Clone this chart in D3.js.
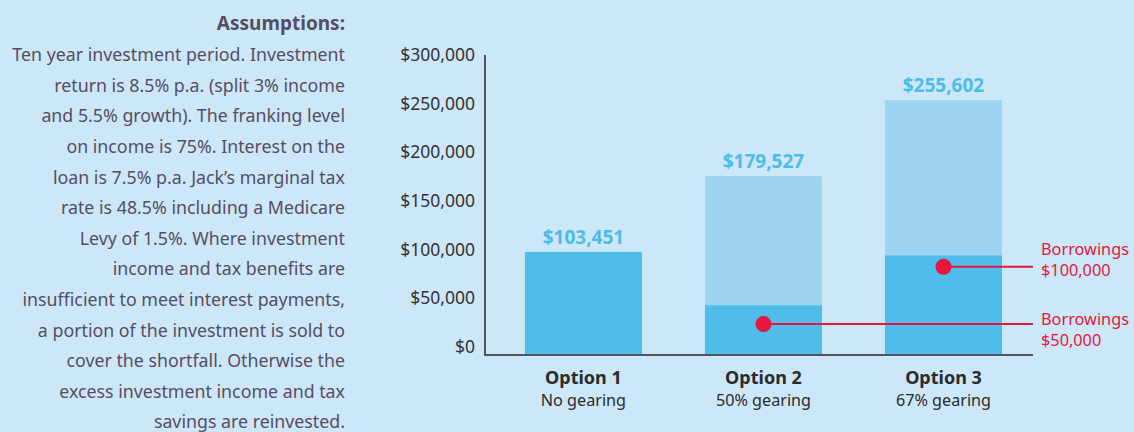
<!DOCTYPE html>
<html><head><meta charset="utf-8">
<script src="https://cdn.jsdelivr.net/npm/d3@7"></script>
<style>
body{margin:0;background:#CCE7F8;}
svg{display:block;font-family:"Noto Sans",sans-serif;}
</style>
</head><body>
<svg id="chart" width="1134" height="432"></svg>
<script>
// ---- data ----
const categories = ["Option 1", "Option 2", "Option 3"];
const subtitles = ["No gearing", "50% gearing", "67% gearing"];
const totals = [103451, 179527, 255602];
const lowerSegment = [103451, 50000, 100000];
const yTicks = [0, 50000, 100000, 150000, 200000, 250000, 300000];
const borrowOptions = ["Option 3", "Option 2"];
const borrowAmounts = [100000, 50000];
const borrowMarkerLevels = [88500, 31000];
const borrowLabelLevels = [106500, 35500];
const assumptionsTitle = "Assumptions:";
const assumptionLines = [
  "Ten year investment period. Investment",
  "return is 8.5% p.a. (split 3% income",
  "and 5.5% growth). The franking level",
  "on income is 75%. Interest on the",
  "loan is 7.5% p.a. Jack\u2019s marginal tax",
  "rate is 48.5% including a Medicare",
  "Levy of 1.5%. Where investment",
  "income and tax benefits are",
  "insufficient to meet interest payments,",
  "a portion of the investment is sold to",
  "cover the shortfall. Otherwise the",
  "excess investment income and tax",
  "savings are reinvested."
];

// ---- styles ----
const C = {
  bg: "#CCE7F8", dark: "#50BCEA", light: "#9DD4F0", value: "#4FBBE9",
  red: "#E4173E", axis: "#50545C", tick: "#333333", text: "#574D63"
};
const fmt = d3.format(",");
const svg = d3.select("#chart");

const x = d3.scaleBand().domain(categories).range([485, 1033])
  .paddingInner(0.35).paddingOuter(0.197).align(0.563);
const y = d3.scaleLinear().domain([0, 300000]).range([355, 56]);
const yLabel = y.copy().range([347, 55]);

// bars
const rows = categories.map((c, i) => ({c, total: totals[i], lower: lowerSegment[i]}));
svg.append("g").selectAll("rect").data(rows).join("rect")
  .attr("x", d => x(d.c)).attr("width", x.bandwidth())
  .attr("y", d => y(d.total)).attr("height", d => y(d.lower) - y(d.total))
  .attr("fill", C.light);
svg.append("g").selectAll("rect").data(rows).join("rect")
  .attr("x", d => x(d.c)).attr("width", x.bandwidth())
  .attr("y", d => y(d.lower)).attr("height", d => y(0) - y(d.lower))
  .attr("fill", C.dark);

// value labels
svg.append("g").selectAll("text").data(rows).join("text")
  .attr("x", d => x(d.c) + x.bandwidth() / 2).attr("y", d => y(d.total) - 8)
  .attr("text-anchor", "middle").attr("font-weight", "bold").attr("font-size", 19)
  .attr("fill", C.value).text(d => "$" + fmt(d.total));

// axes lines
svg.append("line").attr("x1", 485).attr("x2", 485).attr("y1", y(300000) - 1).attr("y2", y(0) + 1)
  .attr("stroke", C.axis).attr("stroke-width", 2);
svg.append("line").attr("x1", x.range()[0]).attr("x2", x.range()[1]).attr("y1", y(0)).attr("y2", y(0))
  .attr("stroke", C.axis).attr("stroke-width", 2);

// y tick labels
svg.append("g").selectAll("text").data(yTicks).join("text")
  .attr("x", 475).attr("y", d => yLabel(d)).attr("dy", "0.35em")
  .attr("text-anchor", "end").attr("font-size", 17.5).attr("fill", C.tick)
  .text(d => "$" + fmt(d));

// x labels
const xl = svg.append("g").selectAll("g").data(categories).join("g");
xl.append("text").attr("x", d => x(d) + x.bandwidth() / 2).attr("y", 384)
  .attr("text-anchor", "middle").attr("font-weight", "bold").attr("font-size", 18)
  .attr("fill", "#2B2B2B").text(d => d);
xl.append("text").attr("x", d => x(d) + x.bandwidth() / 2).attr("y", 406)
  .attr("text-anchor", "middle").attr("font-size", 16.2).attr("fill", "#2B2B2B")
  .text((d, i) => subtitles[i]);

// borrowing annotations
const ann = borrowOptions.map((o, i) => ({o, amt: borrowAmounts[i], lvl: borrowMarkerLevels[i], lab: borrowLabelLevels[i]}));
const ag = svg.append("g").selectAll("g").data(ann).join("g");
ag.append("line").attr("x1", d => x(d.o) + x.bandwidth() / 2).attr("x2", x.range()[1])
  .attr("y1", d => y(d.lvl)).attr("y2", d => y(d.lvl)).attr("stroke", C.red).attr("stroke-width", 2);
ag.append("circle").attr("cx", d => x(d.o) + x.bandwidth() / 2).attr("cy", d => y(d.lvl))
  .attr("r", 8).attr("fill", C.red);
ag.append("text").attr("x", 1041).attr("y", d => y(d.lab)).attr("dy", "0.35em")
  .attr("font-size", 16.3).attr("fill", C.red).text("Borrowings");
ag.append("text").attr("x", 1041).attr("y", d => y(d.lab) + 21).attr("dy", "0.35em")
  .attr("font-size", 16.3).attr("fill", C.red).text(d => "$" + fmt(d.amt));

// assumptions text
svg.append("text").attr("x", 345).attr("y", 23).attr("dy", "0.35em").attr("text-anchor", "end")
  .attr("font-weight", "bold").attr("font-size", 19).attr("fill", C.text).text(assumptionsTitle);
svg.append("g").selectAll("text").data(assumptionLines).join("text")
  .attr("x", 345).attr("y", (d, i) => 55 + i * 30.6).attr("dy", "0.35em")
  .attr("text-anchor", "end").attr("font-size", 17.8).attr("fill", C.text).text(d => d);
</script>
</body></html>
